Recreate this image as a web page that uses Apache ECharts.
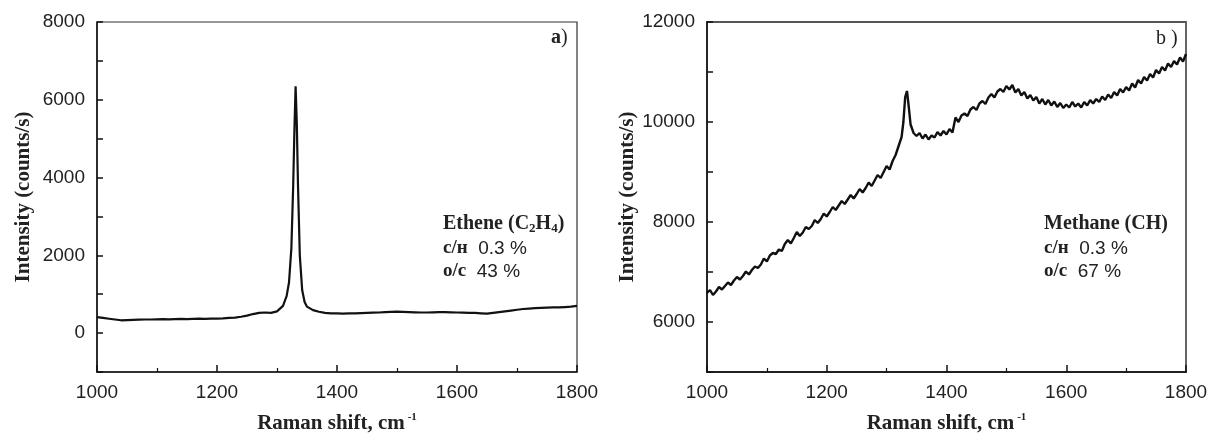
<!DOCTYPE html>
<html>
<head>
<meta charset="utf-8">
<script src="https://cdn.jsdelivr.net/npm/echarts@6/dist/echarts.min.js"></script>
<style>
  html, body { margin: 0; padding: 0; background: #fff; }
  #chart { width: 1211px; height: 440px; }
</style>
</head>
<body>
<div id="chart"></div>
<script>
// panel a) ethene spectrum, [raman shift, intensity]
const etheneSpectrum = [
  [1000, 410], [1010, 390], [1020, 370], [1030, 350], [1040, 330], [1050, 335],
  [1060, 340], [1070, 345], [1080, 350], [1090, 350], [1100, 355], [1110, 360],
  [1120, 355], [1130, 360], [1140, 365], [1150, 360], [1160, 365], [1170, 370],
  [1180, 365], [1190, 370], [1200, 375], [1210, 380], [1220, 390], [1230, 400],
  [1240, 420], [1250, 450], [1260, 490], [1270, 520], [1280, 530], [1290, 520],
  [1300, 560], [1310, 700], [1316, 950], [1320, 1300], [1324, 2200], [1327, 3800],
  [1329, 5200], [1331, 6350], [1333, 5400], [1335, 3800], [1338, 2000], [1342, 1100],
  [1346, 800], [1350, 680], [1360, 590], [1370, 550], [1380, 520], [1390, 510],
  [1400, 505], [1410, 500], [1420, 505], [1430, 510], [1440, 515], [1450, 520],
  [1460, 525], [1470, 530], [1480, 540], [1490, 545], [1500, 550], [1510, 545],
  [1520, 540], [1530, 535], [1540, 530], [1550, 530], [1560, 535], [1570, 540],
  [1580, 540], [1590, 535], [1600, 530], [1610, 525], [1620, 520], [1630, 520],
  [1640, 510], [1650, 500], [1660, 520], [1670, 540], [1680, 560], [1690, 580],
  [1700, 600], [1710, 620], [1720, 630], [1730, 640], [1740, 650], [1750, 655],
  [1760, 660], [1770, 660], [1780, 670], [1790, 680], [1800, 700]
];

// panel b) methane spectrum
const methaneSpectrum = [
  [1000, 6580], [1005, 6640], [1010, 6540], [1015, 6610], [1020, 6700], [1025, 6650],
  [1030, 6720], [1035, 6790], [1040, 6740], [1045, 6830], [1050, 6900], [1055, 6850],
  [1060, 6920], [1065, 7010], [1070, 6950], [1075, 7040], [1080, 7110], [1085, 7080],
  [1090, 7150], [1095, 7270], [1100, 7210], [1105, 7330], [1110, 7380], [1115, 7360],
  [1120, 7450], [1125, 7420], [1130, 7560], [1135, 7640], [1140, 7570], [1145, 7680],
  [1150, 7800], [1155, 7720], [1160, 7790], [1165, 7900], [1170, 7860], [1175, 7920],
  [1180, 8040], [1185, 7980], [1190, 8060], [1195, 8170], [1200, 8110], [1205, 8200],
  [1210, 8300], [1215, 8240], [1220, 8330], [1225, 8420], [1230, 8360], [1235, 8450],
  [1240, 8540], [1245, 8470], [1250, 8560], [1255, 8660], [1260, 8590], [1265, 8680],
  [1270, 8790], [1275, 8720], [1280, 8830], [1285, 8940], [1290, 8880], [1295, 9000],
  [1300, 9120], [1305, 9050], [1310, 9220], [1315, 9340], [1320, 9520], [1325, 9700],
  [1328, 10000], [1331, 10500], [1334, 10620], [1337, 10300], [1340, 9950], [1345, 9780],
  [1350, 9720], [1355, 9780], [1360, 9670], [1365, 9750], [1370, 9650], [1375, 9730],
  [1380, 9690], [1385, 9800], [1390, 9730], [1395, 9820], [1400, 9750], [1405, 9860],
  [1410, 9790], [1415, 10090], [1420, 10000], [1425, 10130], [1430, 10170], [1435, 10120],
  [1440, 10250], [1445, 10300], [1450, 10240], [1455, 10370], [1460, 10420], [1465, 10360],
  [1470, 10490], [1475, 10560], [1480, 10490], [1485, 10610], [1490, 10660], [1495, 10600],
  [1500, 10720], [1505, 10650], [1510, 10740], [1515, 10590], [1520, 10660], [1525, 10530],
  [1530, 10600], [1535, 10470], [1540, 10540], [1545, 10430], [1550, 10500], [1555, 10370],
  [1560, 10460], [1565, 10350], [1570, 10440], [1575, 10330], [1580, 10410], [1585, 10300],
  [1590, 10380], [1595, 10280], [1600, 10350], [1605, 10290], [1610, 10400], [1615, 10310],
  [1620, 10370], [1625, 10290], [1630, 10400], [1635, 10330], [1640, 10440], [1645, 10370],
  [1650, 10460], [1655, 10400], [1660, 10510], [1665, 10440], [1670, 10550], [1675, 10480],
  [1680, 10600], [1685, 10530], [1690, 10660], [1695, 10590], [1700, 10700], [1705, 10630],
  [1710, 10770], [1715, 10690], [1720, 10840], [1725, 10770], [1730, 10900], [1735, 10830],
  [1740, 10960], [1745, 10890], [1750, 11040], [1755, 10970], [1760, 11100], [1765, 11030],
  [1770, 11170], [1775, 11100], [1780, 11220], [1785, 11150], [1790, 11290], [1795, 11210],
  [1800, 11360]
];

const xTicks = [1000, 1200, 1400, 1600, 1800];
const yTicksA = [0, 2000, 4000, 6000, 8000];
const yTicksB = [6000, 8000, 10000, 12000];

const serif = '"Liberation Serif", "Times New Roman", serif';
const sans = '"Liberation Sans", Arial, sans-serif';

function xAxisFor(gridIndex) {
  return {
    gridIndex: gridIndex,
    type: 'value',
    min: 1000, max: 1800, interval: 200,
    name: '{n|Raman shift, cm}{s|-1}',
    nameLocation: 'middle',
    nameGap: 40,
    nameTextStyle: {
      rich: {
        n: { fontFamily: serif, fontWeight: 'bold', fontSize: 21, color: '#222' },
        s: { fontFamily: serif, fontWeight: 'bold', fontSize: 11, color: '#222', verticalAlign: 'top', padding: [0, 0, 12, 3] }
      }
    },
    axisLine: { onZero: false, lineStyle: { color: '#111', width: 1.5 } },
    axisTick: { inside: true, length: 7, lineStyle: { color: '#111', width: 1.5 } },
    minorTick: { show: true, splitNumber: 2, length: 4, lineStyle: { color: '#111', width: 1.2 } },
    axisLabel: {
      fontFamily: sans, fontSize: 19, color: '#222', margin: 11,
      formatter: v => xTicks.includes(v) ? String(v) : ''
    },
    splitLine: { show: false }
  };
}

function yAxisFor(gridIndex, min, max, ticks, gap) {
  return {
    gridIndex: gridIndex,
    type: 'value',
    min: min, max: max, interval: 1000,
    name: 'Intensity (counts/s)',
    nameLocation: 'middle',
    nameGap: gap,
    nameTextStyle: { fontFamily: serif, fontWeight: 'bold', fontSize: 21, color: '#222' },
    axisLine: { onZero: false, lineStyle: { color: '#111', width: 1.5 } },
    axisTick: { inside: true, length: 6, lineStyle: { color: '#111', width: 1.5 } },
    axisLabel: {
      fontFamily: sans, fontSize: 19, color: '#222', margin: 12,
      formatter: v => ticks.includes(v) ? String(v) : ''
    },
    splitLine: { show: false }
  };
}

function noteText(x, y, head, value) {
  return {
    type: 'text', left: x, top: y,
    style: {
      text: '{h|' + head + '}{v|  ' + value + '}',
      rich: {
        h: { fontFamily: serif, fontWeight: 'bold', fontSize: 19, fill: '#222' },
        v: { fontFamily: sans, fontSize: 19, fill: '#222' }
      }
    }
  };
}

const titleRich = {
  t: { fontFamily: serif, fontWeight: 'bold', fontSize: 20, fill: '#222' },
  p: { fontFamily: serif, fontSize: 20, fill: '#222' },
  sub: { fontFamily: serif, fontWeight: 'bold', fontSize: 13, fill: '#222', verticalAlign: 'bottom', padding: [9, 0, 0, 0] }
};

const chart = echarts.init(document.getElementById('chart'));

chart.setOption({
  animation: false,
  backgroundColor: '#fff',
  grid: [
    { left: 97, top: 22, width: 480, height: 350, show: true, borderColor: '#333', borderWidth: 1.2 },
    { left: 707, top: 22, width: 479, height: 350, show: true, borderColor: '#555', borderWidth: 1.8 }
  ],
  xAxis: [xAxisFor(0), xAxisFor(1)],
  yAxis: [
    yAxisFor(0, -1000, 8000, yTicksA, 63),
    yAxisFor(1, 5000, 12000, yTicksB, 69)
  ],
  series: [
    {
      type: 'line', xAxisIndex: 0, yAxisIndex: 0,
      data: etheneSpectrum, showSymbol: false,
      lineStyle: { color: '#111', width: 2.2 }
    },
    {
      type: 'line', xAxisIndex: 1, yAxisIndex: 1,
      data: methaneSpectrum, showSymbol: false,
      lineStyle: { color: '#111', width: 2.4 }
    }
  ],
  graphic: [
    {
      type: 'text', left: 551, top: 28,
      style: { text: '{t|a}{p|)}', rich: titleRich }
    },
    {
      type: 'text', left: 1156, top: 29,
      style: { text: '{p|b )}', rich: titleRich }
    },
    {
      type: 'text', left: 443, top: 214,
      style: { text: '{t|Ethene (C}{sub|2}{t|H}{sub|4}{t|)}', rich: titleRich }
    },
    noteText(443, 239, 'c/н', '0.3 %'),
    noteText(443, 262, 'o/c', '43 %'),
    {
      type: 'text', left: 1044, top: 214,
      style: { text: '{t|Methane (CH)}', rich: titleRich }
    },
    noteText(1044, 239, 'c/н', '0.3 %'),
    noteText(1044, 262, 'o/c', '67 %')
  ]
});
</script>
</body>
</html>
